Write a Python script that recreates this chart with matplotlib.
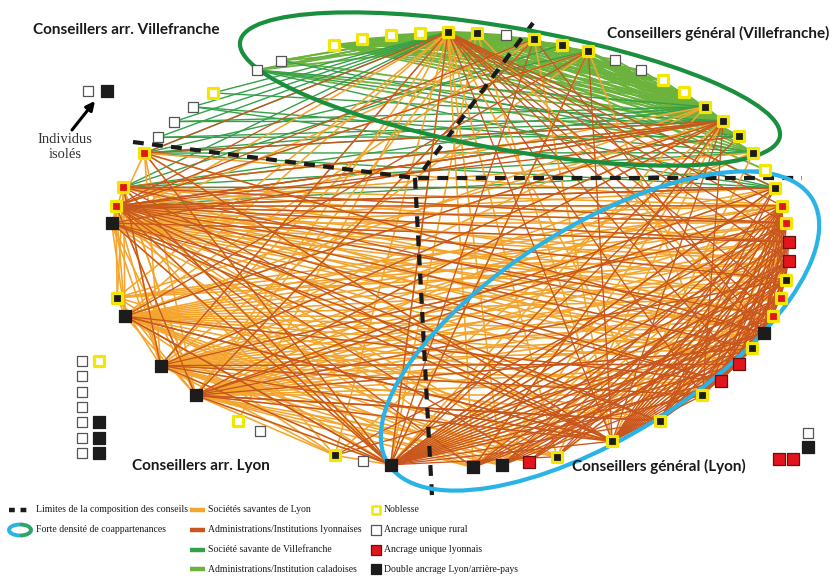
import numpy as np
import matplotlib
matplotlib.use("Agg")
import matplotlib.pyplot as plt
from matplotlib.collections import LineCollection
from matplotlib.patches import Ellipse, Arc

# ---------------- DATA ----------------
# nodes placed on a circular (elliptic) layout: angle in degrees, 1-based ids 1..57
node_angle = [124.4, 119.7, 109.8, 104.8, 99.9, 94.9, 90.2, 85.3, 80.3, 75.5,
              70.5, 65.8, 60.8, 55.6, 51.1, 46.3, 41.1, 36.3, 31.4, 26.5,
              21.6, 16.6, 11.7, 7.1, 2.1, -2.9, -7.9, -12.7, -17.6, -22.3,
              -26.8, -31.6, -36.9, -41.8, -51.7, -61.3, -71.5, -76.4, -81.1, -85.9,
              -99.9, -104.6, -109.6, -123.8, -128.4, -138.2, -148.0, -162.3, -167.4, 172.9,
              168.4, 163.3, 153.6, 148.9, 143.9, 138.9, 133.9]
# ancrage: W = unique rural, R = unique lyonnais, B = double Lyon/arriere-pays
node_anchor = ["W", "W", "W", "W", "W", "W", "B", "B", "W", "B",
               "B", "B", "W", "W", "W", "W", "B", "B", "B", "B",
               "W", "B", "R", "R", "R", "R", "B", "R", "R", "B",
               "B", "R", "R", "B", "B", "B", "B", "R", "B", "B",
               "B", "W", "B", "W", "W", "B", "B", "B", "B", "B",
               "R", "R", "R", "W", "W", "W", "W"]
node_noble = [0, 0, 1, 1, 1, 1, 1, 1, 0, 1,
              1, 1, 0, 0, 1, 1, 1, 1, 1, 1,
              1, 1, 1, 1, 0, 0, 1, 1, 1, 0,
              1, 0, 0, 1, 1, 1, 1, 0, 0, 0,
              0, 0, 1, 0, 1, 0, 0, 0, 1, 0,
              1, 1, 1, 0, 0, 0, 1]

# isolated individuals
iso_topleft = [("W", 0), ("B", 0)]
iso_left_col1 = [("W", 0)] * 7
iso_left_col2 = [(0, "W", 1), (4, "B", 0), (5, "B", 0), (6, "B", 0)]
iso_right = [("W", 0), ("B", 0), ("R", 0), ("R", 0)]

# co-membership links: source id -> target ids
links_savantes_lyon = {
    7: [40, 41, 43, 46, 47, 48, 50, 37, 39, 35, 45, 49],
    8: [41, 47, 30, 36, 46],
    10: [46, 50, 36, 48],
    12: [47, 33, 51, 41],
    17: [48, 50, 41, 47],
    18: [41, 43, 46, 47, 48, 49, 50, 51, 52, 40, 37, 39],
    20: [47, 51, 36, 46],
    22: [46, 48, 50, 51, 41, 40, 47],
    23: [50, 51, 52, 48, 47, 46, 41, 40, 36, 49, 53],
    24: [48, 49, 50, 51, 46, 41, 39, 36, 35, 47, 52],
    25: [48, 49, 50, 51, 47, 41, 38, 36, 46, 52],
    26: [48, 50, 51, 46, 41, 40, 35, 34, 49, 47],
    27: [50, 51, 47, 46, 41, 37, 36, 48, 52],
    28: [48, 50, 51, 46, 41, 39, 47],
    29: [48, 51, 47, 41, 36, 35, 46, 50, 52],
    30: [48, 50, 46, 41, 40, 51, 47],
    31: [51, 47, 46, 41, 48, 50],
    32: [48, 50, 46, 41, 47, 51, 52],
    33: [51, 47, 41, 23, 46, 48],
    34: [50, 46, 41, 23, 24, 47, 48],
    35: [48, 51, 46, 47, 23, 25, 50],
    36: [48, 50, 46, 47, 24, 26, 51, 49],
    37: [48, 51, 47, 46, 50],
    38: [48, 46, 47],
    39: [46, 47, 48, 51],
    40: [46, 47, 48, 50],
    41: [46, 47, 48, 49, 50, 51, 52, 43],
    43: [48, 51, 46, 47],
    46: [48, 49, 50, 51, 52],
    47: [49, 50, 51, 52],
    48: [50, 51, 52, 49],
    49: [51, 52],
    50: [52, 53],
    52: [41, 46, 47],
    53: [41, 46, 47, 36, 30],
}
links_admin_lyon = {
    7: [22, 23, 24, 26, 28, 30, 32, 34, 36, 41, 47, 51, 25, 29, 53],
    10: [41, 46, 51, 30],
    12: [36, 41, 48],
    18: [41, 46, 48, 50, 51, 52, 40, 36, 34, 47, 53],
    19: [51, 41],
    22: [51, 52, 41, 46],
    51: [23, 25, 27, 29, 31, 33, 35, 36, 38, 40, 41, 46, 18, 12, 22, 24],
    52: [24, 30, 36, 41],
    53: [30, 36, 41],
    50: [25, 33, 41],
    41: [22, 23, 24, 25, 26, 27, 28, 29, 30, 31, 32, 33, 34, 35, 36, 37, 47, 48],
    46: [23, 27, 31, 35, 36, 41],
    47: [24, 32, 36, 52],
    48: [33, 36, 41],
    36: [22, 23, 24, 25, 26, 27, 28, 29, 30, 31, 32, 33, 34, 48, 50],
    35: [22, 23, 24, 26, 28, 30, 32, 46, 50],
    34: [23, 25, 27, 29, 31, 47],
    33: [23, 24, 25, 27, 29, 31],
    32: [23, 24, 26, 28, 30],
    31: [23, 25, 27, 29],
    30: [23, 24, 26, 28],
    29: [23, 25, 27],
    28: [23, 24, 26],
    27: [23, 25],
    39: [23, 25, 27, 29, 31, 33],
    40: [24, 26, 28, 30, 32],
    37: [23, 25, 27],
    38: [24, 26, 28],
    43: [24, 30],
}
links_admin_caladoises = {
    7: [1, 2, 3, 4, 5, 6, 8, 9, 10, 11, 12, 13, 14, 15, 16, 17, 18, 19, 20, 21, 22],
    18: [3, 4, 5, 6, 8, 9, 10, 11, 12, 13, 14, 15, 16, 17],
    3: [8, 10, 11, 12, 14, 15, 16, 17, 19],
    4: [8, 10, 12, 15, 17, 20],
    5: [10, 11, 16, 17, 19],
    6: [11, 12, 16, 19],
    8: [12, 15, 17, 19],
    9: [17, 19],
    10: [16, 17, 19, 20],
    11: [17, 19],
    12: [17, 19, 20],
    1: [7, 8, 10, 18, 20],
    2: [7, 10, 18],
}
links_savante_villefranche = {
    53: [7, 18, 17, 20, 22, 12],
    52: [7, 18, 20, 22, 17, 11],
    51: [18, 21],
    54: [7, 18, 19],
    55: [7, 17, 18],
    56: [7, 20, 22],
    57: [7, 18],
    1: [17, 19, 22],
    2: [20],
}

legend_lines = ["Sociétés savantes de Lyon", "Administrations/Institutions lyonnaises",
                "Société savante de Villefranche", "Administrations/Institution caladoises"]
legend_nodes = ["Noblesse", "Ancrage unique rural", "Ancrage unique lyonnais",
                "Double ancrage Lyon/arrière-pays"]

# ---------------- STYLE ----------------
C_OR = "#F4A52E"
C_RU = "#C8561E"
C_DG = "#35A04A"
C_LG = "#6CB33E"
C_YEL = "#F3E600"
C_RED = "#E3141B"
C_BLK = "#1c1c1c"
C_GREEN_ELL = "#1A8F3E"
C_BLUE_ELL = "#2AB3E6"

fig = plt.figure(figsize=(8.3, 5.76), dpi=100)
ax = fig.add_axes([0, 0, 1, 1])
ax.set_xlim(0, 830)
ax.set_ylim(576, 0)
ax.axis("off")

# layout of the ring
CX, CY, RX, RY = 449, 250, 340, 218
ang = np.radians(np.array(node_angle))
pos = np.column_stack([CX + RX * np.cos(ang), CY - RY * np.sin(ang)])


def P(i):
    return pos[i - 1]


def draw_links(d, color, z, lw):
    segs = [[P(s), P(t)] for s, ts in d.items() for t in ts]
    ax.add_collection(LineCollection(segs, colors=color, linewidths=lw, zorder=z))


draw_links(links_admin_caladoises, C_LG, 2, 1.3)
draw_links(links_savante_villefranche, C_DG, 2.1, 1.0)
draw_links(links_savantes_lyon, C_OR, 3, 1.15)
draw_links(links_admin_lyon, C_RU, 4, 0.95)

# dashed council limits
dash_kw = dict(color="#1a1a1a", lw=3.0, dashes=(2.6, 2.0), solid_capstyle="butt",
               dash_capstyle="butt", zorder=6)
ax.plot([133, 415, 802], [142, 178, 178], **dash_kw)
ax.plot([415, 432], [178, 496], **dash_kw)
ax.plot([533, 418], [23, 177], **dash_kw)

# density ellipses
ax.add_patch(Ellipse((510, 89), 548, 122, angle=10, fill=False, ec=C_GREEN_ELL, lw=3.0, zorder=7))
ax.add_patch(Ellipse((600, 331), 500, 210, angle=-32, fill=False, ec=C_BLUE_ELL, lw=3.0, zorder=7))

FILL = {"W": "white", "R": C_RED, "B": C_BLK}
EDGE = {"W": "#555555", "R": "#6a1010", "B": C_BLK}


def node(x, y, anchor, noble, z=8):
    if noble:
        ax.scatter([x], [y], s=58, marker="s", c=FILL[anchor], edgecolors=C_YEL,
                   linewidths=2.3, zorder=z)
    else:
        s = 52 if anchor == "W" else 68
        ax.scatter([x], [y], s=s, marker="s", c=FILL[anchor], edgecolors=EDGE[anchor],
                   linewidths=0.9, zorder=z)


for i in range(len(node_angle)):
    node(pos[i, 0], pos[i, 1], node_anchor[i], node_noble[i])

# isolated individuals
for k, (a, nb) in enumerate(iso_topleft):
    node(88 + 19 * k, 91, a, nb)
for r, (a, nb) in enumerate(iso_left_col1):
    node(82, 361 + 15.3 * r, a, nb)
for r, a, nb in iso_left_col2:
    node(99, 361 + 15.3 * r, a, nb)
node(808, 433, *iso_right[0])
node(808, 447, *iso_right[1])
node(779, 459, *iso_right[2])
node(793, 459, *iso_right[3])

ax.annotate("", xy=(95, 101), xytext=(72, 130),
            arrowprops=dict(arrowstyle="-|>", lw=2.2, color="black", mutation_scale=13,
                            shrinkA=0, shrinkB=0), zorder=9)
ax.text(65, 147, "Individus\nisolés", ha="center", va="center", fontsize=10.5,
        family="Liberation Serif", color="#333333", linespacing=1.25)

# group titles
tkw = dict(family="Lato", fontweight="bold", fontsize=11, color="#1a1a1a", va="center", zorder=10)
ax.text(33, 30, "Conseillers arr. Villefranche", ha="left", **tkw)
ax.text(829, 33, "Conseillers général (Villefranche)", ha="right", **tkw)
ax.text(132, 466, "Conseillers arr. Lyon", ha="left", **tkw)
ax.text(572, 466, "Conseillers général (Lyon)", ha="left", **tkw)

# ---------------- LEGEND ----------------
lkw = dict(family="Liberation Serif", fontsize=7.0, color="#1a1a1a", va="center", ha="left")
rows = [510, 530, 550, 569]
ax.plot([9, 32], [rows[0], rows[0]], color="#1a1a1a", lw=3.2, dashes=(1.3, 1.3),
        solid_capstyle="butt", dash_capstyle="butt")
ax.text(36, rows[0], "Limites de la composition des conseils", **lkw)
ax.add_patch(Arc((20, rows[1]), 22, 11, theta1=90, theta2=270, ec=C_BLUE_ELL, lw=2.8))
ax.add_patch(Arc((20, rows[1]), 22, 11, theta1=-90, theta2=90, ec="#2ea36a", lw=2.8))
ax.text(36, rows[1], "Forte densité de coappartenances", **lkw)

for r, lab, col in zip(rows, legend_lines, [C_OR, C_RU, C_DG, C_LG]):
    ax.plot([190, 205], [r, r], color=col, lw=3.2, solid_capstyle="butt")
    ax.text(208, r, lab, **lkw)

leg_style = [("W", 1), ("W", 0), ("R", 0), ("B", 0)]
for r, lab, (a, nb) in zip(rows, legend_nodes, leg_style):
    if nb:
        ax.scatter([376], [r], s=40, marker="s", c="white", edgecolors=C_YEL, linewidths=1.8)
    else:
        ax.scatter([376], [r], s=44, marker="s", c=FILL[a], edgecolors=EDGE[a], linewidths=0.9)
    ax.text(384, r, lab, **lkw)

fig.savefig("out.png", dpi=100)
